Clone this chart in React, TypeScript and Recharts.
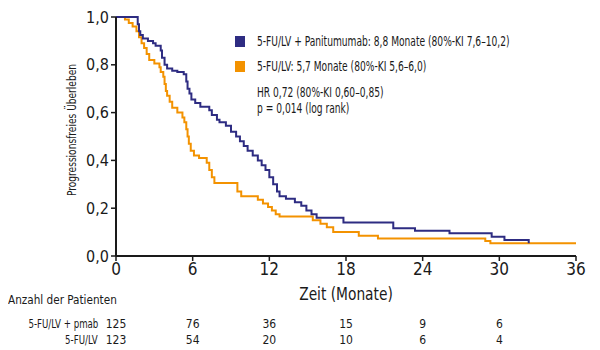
import { LineChart, Line, XAxis, YAxis } from 'recharts';

const FONT = "'Liberation Sans Narrow', 'DejaVu Sans Condensed', 'Roboto Condensed', sans-serif";
const NAVY = '#2e2c82';
const ORANGE = '#f39200';
const INK = '#1a1a1a';

const xTicks = [0, 6, 12, 18, 24, 30, 36];
const yTicks = [0, 0.2, 0.4, 0.6, 0.8, 1.0];

// Kaplan-Meier steps: [month, survival]
const pmabSteps = [
  [0, 1.0], [1.7, 0.97], [1.8, 0.94], [1.9, 0.925], [2.1, 0.91], [2.5, 0.9], [2.9, 0.89],
  [3.1, 0.88], [3.5, 0.86], [3.6, 0.83], [3.8, 0.8], [4.0, 0.785], [4.4, 0.775], [4.8, 0.77],
  [5.3, 0.76], [5.5, 0.73], [5.6, 0.7], [5.75, 0.68], [5.9, 0.655], [6.2, 0.64], [6.6, 0.625],
  [7.3, 0.61], [7.5, 0.59], [7.9, 0.57], [8.1, 0.56], [8.6, 0.545], [9.0, 0.52], [9.4, 0.5],
  [9.7, 0.48], [10.0, 0.46], [10.3, 0.44], [10.7, 0.42], [11.1, 0.4], [11.4, 0.38], [11.7, 0.36],
  [12.0, 0.33], [12.3, 0.3], [12.6, 0.27], [12.8, 0.25], [13.3, 0.24], [14.0, 0.225], [14.5, 0.21],
  [14.9, 0.19], [15.3, 0.175], [15.7, 0.16], [17.8, 0.14], [21.7, 0.116], [23.4, 0.106],
  [26.1, 0.095], [29.4, 0.081], [30.4, 0.067], [32.3, 0.053],
];

const fuSteps = [
  [0, 1.0], [0.7, 0.99], [1.0, 0.975], [1.3, 0.96], [1.6, 0.94], [1.8, 0.915], [2.0, 0.89],
  [2.2, 0.87], [2.4, 0.845], [2.6, 0.82], [3.0, 0.805], [3.4, 0.79], [3.5, 0.77], [3.7, 0.75],
  [3.8, 0.72], [3.9, 0.69], [4.0, 0.67], [4.2, 0.645], [4.4, 0.62], [4.8, 0.6], [5.2, 0.58],
  [5.35, 0.56], [5.5, 0.53], [5.6, 0.5], [5.7, 0.47], [5.85, 0.44], [6.1, 0.42], [6.5, 0.41],
  [7.1, 0.39], [7.3, 0.36], [7.5, 0.33], [7.7, 0.305], [9.5, 0.27], [9.8, 0.25], [11.1, 0.235],
  [11.5, 0.22], [11.9, 0.205], [12.2, 0.19], [12.5, 0.175], [12.8, 0.165], [15.4, 0.15],
  [16.0, 0.135], [16.5, 0.12], [17.0, 0.1], [19.0, 0.085], [20.5, 0.073], [28.9, 0.063],
  [29.3, 0.053], [36, 0.053],
];

const atRiskPmab = [125, 76, 36, 15, 9, 6];
const atRiskFu = [123, 54, 20, 10, 6, 4];

const toRows = (steps: number[][]) => steps.map(([t, s]) => ({ t, s }));

const fmt = (v: number) => v.toFixed(1).replace('.', ',');

// plot area in page pixels
const PLOT_LEFT = 116;
const PLOT_RIGHT = 576;
const xPx = (t: number) => PLOT_LEFT + ((PLOT_RIGHT - PLOT_LEFT) * t) / 36;

const txt = (style: any) => ({
  position: 'absolute' as const,
  fontFamily: FONT,
  color: INK,
  whiteSpace: 'nowrap' as const,
  lineHeight: 1,
  ...style,
});

// left-anchored text squeezed horizontally (reference font is condensed)
const narrowLeft = (s: number) => ({ transform: `scaleX(${s})`, transformOrigin: 'left center' });

export default function App() {
  return (
    <div style={{ position: 'absolute', left: 0, top: 0, width: 600, height: 350, background: '#fff' }}>
      <LineChart
        width={600}
        height={350}
        margin={{ top: 17, right: 24, bottom: 64, left: 76 }}
      >
        <XAxis
          type="number"
          dataKey="t"
          domain={[0, 36]}
          ticks={xTicks}
          interval={0}
          height={30}
          axisLine={{ stroke: INK, strokeWidth: 2 }}
          tickLine={{ stroke: INK, strokeWidth: 1.5 }}
          tickSize={5}
          tick={{ fill: INK, fontSize: 17, fontFamily: FONT }}
          allowDataOverflow
        />
        <YAxis
          type="number"
          domain={[0, 1]}
          ticks={yTicks}
          interval={0}
          width={40}
          tickFormatter={fmt}
          axisLine={{ stroke: INK, strokeWidth: 2 }}
          tickLine={{ stroke: INK, strokeWidth: 1.5 }}
          tickSize={5}
          tick={{ fill: INK, fontSize: 16, fontFamily: FONT }}
        />
        <Line
          data={toRows(fuSteps)}
          dataKey="s"
          type="stepAfter"
          stroke={ORANGE}
          strokeWidth={2}
          dot={false}
          isAnimationActive={false}
        />
        <Line
          data={toRows(pmabSteps)}
          dataKey="s"
          type="stepAfter"
          stroke={NAVY}
          strokeWidth={2}
          dot={false}
          isAnimationActive={false}
        />
      </LineChart>

      <div
        style={txt({
          left: 72,
          top: 130,
          fontSize: 12,
          transform: 'translate(-50%, -50%) rotate(-90deg) scaleX(0.84)',
        })}
      >
        Progressionsfreies Überleben
      </div>

      <div style={txt({ left: 346, top: 285, fontSize: 18, transform: 'translateX(-50%) scaleX(0.85)' })}>
        Zeit (Monate)
      </div>

      {/* legend + stats */}
      <div style={{ position: 'absolute', left: 235, top: 36, width: 10, height: 11, background: NAVY }} />
      <div style={txt({ left: 257, top: 35, fontSize: 13.5, ...narrowLeft(0.75) })}>
        5-FU/LV + Panitumumab: 8,8 Monate (80%-KI 7,6–10,2)
      </div>
      <div style={{ position: 'absolute', left: 235, top: 61, width: 10, height: 11, background: ORANGE }} />
      <div style={txt({ left: 257, top: 60, fontSize: 13.5, ...narrowLeft(0.75) })}>
        5-FU/LV: 5,7 Monate (80%-KI 5,6–6,0)
      </div>
      <div style={txt({ left: 257, top: 86, fontSize: 13.5, ...narrowLeft(0.75) })}>
        HR 0,72 (80%-KI 0,60–0,85)
      </div>
      <div style={txt({ left: 257, top: 102, fontSize: 13.5, ...narrowLeft(0.75) })}>
        p = 0,014 (log rank)
      </div>

      {/* numbers at risk */}
      <div style={txt({ left: 8, top: 294, fontSize: 12, ...narrowLeft(0.97) })}>Anzahl der Patienten</div>
      <div style={txt({ right: 600 - 98, top: 318, fontSize: 12, transform: 'scaleX(0.8)', transformOrigin: 'right center' })}>
        5-FU/LV + pmab
      </div>
      <div style={txt({ right: 600 - 98, top: 334, fontSize: 12, transform: 'scaleX(0.8)', transformOrigin: 'right center' })}>
        5-FU/LV
      </div>
      {atRiskPmab.map((n, i) => (
        <div key={`p-${i}`} style={txt({ left: xPx(xTicks[i]), top: 318, fontSize: 12, transform: 'translateX(-50%)' })}>
          {n}
        </div>
      ))}
      {atRiskFu.map((n, i) => (
        <div key={`f-${i}`} style={txt({ left: xPx(xTicks[i]), top: 334, fontSize: 12, transform: 'translateX(-50%)' })}>
          {n}
        </div>
      ))}
    </div>
  );
}
